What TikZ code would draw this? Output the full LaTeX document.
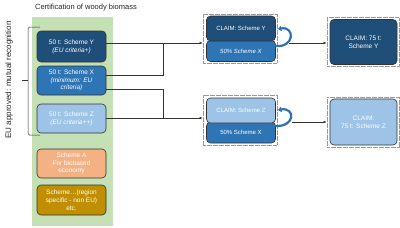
\documentclass[tikz,border=0pt]{standalone}
\usepackage{fontspec}
\setmainfont{Liberation Sans}
\usetikzlibrary{arrows.meta}
\definecolor{navy}{HTML}{1F4E79}
\definecolor{midblue}{HTML}{2E75B6}
\definecolor{lightblue}{HTML}{9DC3E6}
\definecolor{salmon}{HTML}{F4B183}
\definecolor{gold}{HTML}{BF8F00}
\definecolor{greenbg}{HTML}{C5E0B4}
\definecolor{loopblue}{HTML}{2F6EBA}
\begin{document}
\begin{tikzpicture}[x=1pt,y=-1pt,
  box/.style={draw=black!80, line width=0.6pt, rounded corners=4pt, text=white, align=center,
    font=\fontsize{6.5}{7.8}\selectfont, inner sep=1pt},
  claim/.style={box, font=\fontsize{6}{7.2}\selectfont},
  grp/.style={draw=black!40, dash pattern=on 0.6pt off 0.6pt, line width=0.45pt, inner sep=0pt},
  conn/.style={draw=black!80, line width=0.6pt},
  arr/.style={conn, -{Latex[length=3.2pt,width=2.6pt]}},
  loopy/.style={draw=loopblue, line width=2.2pt, -{Triangle[length=3.5pt,width=5.5pt]}}]
\useasboundingbox (0,0) rectangle (400,228);
% green panel
\node[fill=greenbg, minimum width=81pt, minimum height=209pt, inner sep=0pt, anchor=north west] (panel) at (32,17) {};
\node[font=\fontsize{7.5}{9}\selectfont, text=black!85] (title) at (86,8) {Certification of woody biomass};
\node[rotate=90, font=\fontsize{8}{9.6}\selectfont, text=black!85] (eu) at (9,80) {EU approved: mutual recognition};
% bracket
\draw[conn, line width=0.5pt, rounded corners=1.5pt] (40,27) -- (28,27) -- (28,135) -- (40,135);
\draw[conn, line width=0.5pt] (28,80) -- (22,80);
% left boxes
\node[box, fill=navy, minimum width=69pt, minimum height=31pt] (Y) at (71.5,46.5) {50 t: Scheme Y\\\textit{(EU criteria+)}};
\node[box, fill=midblue, minimum width=69pt, minimum height=29pt] (X) at (71.5,80.5) {50 t: Scheme X\\\textit{(minimum: EU}\\\textit{criteria)}};
\node[box, fill=lightblue, minimum width=69pt, minimum height=29pt] (Z) at (71.5,118.5) {50 t: Scheme Z\\\textit{(EU criteria++)}};
\node[box, fill=salmon, minimum width=69pt, minimum height=29pt] (A) at (71.5,163.5) {Scheme A\\For biobased\\economy};
\node[box, fill=gold, minimum width=69pt, minimum height=30pt] (E) at (71.5,200) {Scheme\dots(region\\specific - non EU)\\etc.};
% claim groups
\node[grp, minimum width=74pt, minimum height=49pt] (gT) at (240,38.5) {};
\node[claim, fill=midblue, minimum width=69pt, minimum height=21pt] (xT) at (241,51) {\textit{50\% Scheme X}};
\node[claim, fill=navy, minimum width=69pt, minimum height=25pt] (cY) at (241,28.5) {CLAIM: Scheme Y};
\node[grp, minimum width=74pt, minimum height=50pt] (gB) at (240,120) {};
\node[claim, fill=midblue, minimum width=69pt, minimum height=21pt] (xB) at (241,132.5) {50\% Scheme X};
\node[claim, fill=lightblue, minimum width=69pt, minimum height=25pt] (cZ) at (241,110.5) {CLAIM: Scheme Z};
% right boxes
\node[grp, minimum width=72pt, minimum height=49pt] (rT) at (363,42) {};
\node[box, fill=navy, minimum width=67pt, minimum height=45pt] (fY) at (363.5,42) {CLAIM: 75 t:\\Scheme Y};
\node[grp, minimum width=72pt, minimum height=50pt] (rB) at (363,122) {};
\node[box, fill=lightblue, minimum width=67pt, minimum height=46pt] (fZ) at (363.5,122) {CLAIM:\\75 t: Scheme Z};
% connectors
\coordinate (j1) at (163,43);
\coordinate (j2) at (163,75);
\coordinate (j3) at (163,89);
\coordinate (j4) at (163,118);
\draw[arr] (Y.east |- j1) -- (gT.west |- j1);
\draw[conn] (X.east |- j2) -- (j2) -- (j1);
\draw[conn] (X.east |- j3) -- (j3) -- (j4);
\draw[arr] (Z.east |- j4) -- (gB.west |- j4);
\coordinate (o1) at (289,43);
\coordinate (o2) at (292,122);
\draw[arr] (o1) -- (rT.west |- o1);
\draw[arr] (o2) -- (rB.west |- o2);
% loop arrows
\coordinate (lt1) at (275,46);
\coordinate (lt2) at (278,29);
\coordinate (lb1) at (275,126);
\coordinate (lb2) at (278,110);
\draw[loopy] (lt1) .. controls (295,48) and (295,26) .. (lt2);
\draw[loopy] (lb1) .. controls (296,127) and (295,107) .. (lb2);
\end{tikzpicture}
\end{document}
